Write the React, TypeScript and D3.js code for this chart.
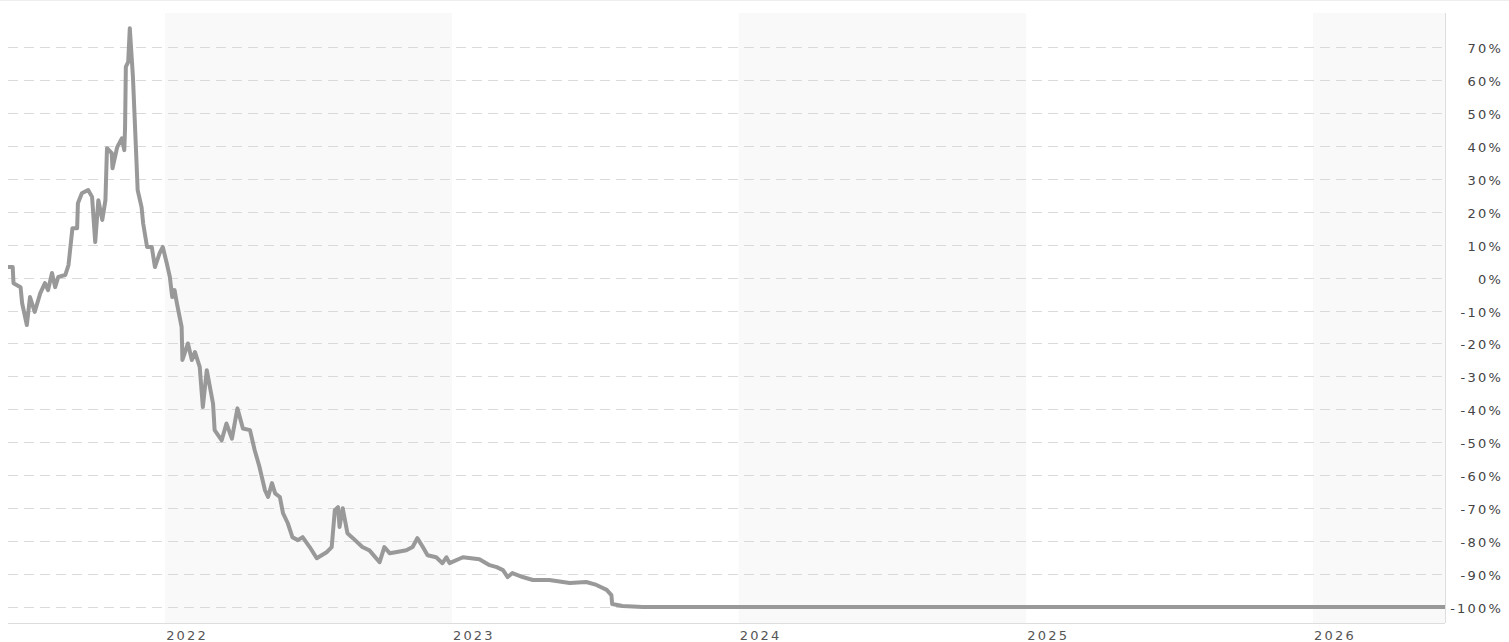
import React from "react";
import * as d3 from "d3";

const dates: string[] = [
  "2021-06-15","2021-06-21","2021-06-22","2021-07-01","2021-07-03","2021-07-09","2021-07-13","2021-07-19","2021-07-26","2021-08-01",
  "2021-08-05","2021-08-10","2021-08-14","2021-08-18","2021-08-27","2021-08-31","2021-09-05","2021-09-11","2021-09-12","2021-09-17",
  "2021-09-25","2021-09-30","2021-10-04","2021-10-08","2021-10-13","2021-10-17","2021-10-19","2021-10-25","2021-10-26","2021-11-01",
  "2021-11-07","2021-11-10","2021-11-11","2021-11-12","2021-11-15","2021-11-17","2021-11-21","2021-11-26","2021-11-27","2021-12-02",
  "2021-12-04","2021-12-09","2021-12-15","2021-12-19","2021-12-22","2021-12-25","2021-12-29","2022-01-03","2022-01-07","2022-01-10",
  "2022-01-13","2022-01-16","2022-01-22","2022-01-23","2022-01-30","2022-02-04","2022-02-08","2022-02-14","2022-02-18","2022-02-23",
  "2022-03-03","2022-03-05","2022-03-14","2022-03-20","2022-03-27","2022-04-03","2022-04-10","2022-04-19","2022-04-25","2022-05-01",
  "2022-05-08","2022-05-12","2022-05-17","2022-05-21","2022-05-27","2022-05-31","2022-06-06","2022-06-12","2022-06-19","2022-06-25",
  "2022-07-04","2022-07-13","2022-07-26","2022-08-01","2022-08-05","2022-08-09","2022-08-11","2022-08-15","2022-08-21","2022-08-28",
  "2022-09-09","2022-09-18","2022-10-01","2022-10-07","2022-10-14","2022-10-23","2022-11-04","2022-11-12","2022-11-18","2022-11-25",
  "2022-12-01","2022-12-12","2022-12-20","2022-12-25","2022-12-29","2023-01-15","2023-02-05","2023-02-18","2023-02-27","2023-03-07",
  "2023-03-13","2023-03-19","2023-04-01","2023-04-14","2023-05-05","2023-05-31","2023-06-21","2023-07-04","2023-07-17","2023-07-23",
  "2023-07-24","2023-08-06","2023-09-01","2024-06-01","2025-06-01","2026-06-18"
];

const values: number[] = [
  3.2,3.2,-1.7,-2.9,-7.8,-14.4,-5.9,-10.4,-4.8,-1.7,
  -3.8,1.4,-2.9,0.2,0.8,3.8,15,15,22.6,25.6,
  26.6,24.5,10.8,23.5,17.5,23.5,39.3,37.8,33.2,39.6,
  42.3,38.7,45.4,64,65.5,75.7,61,32.6,26.6,21.4,
  16.5,9.3,9.3,3.2,5.3,7.4,9.3,4.4,0.2,-5.9,
  -3.8,-7.8,-15,-25,-20,-25,-22.6,-27.1,-39.3,-28.1,
  -38.3,-46.3,-49.4,-44.3,-48.9,-39.7,-45.8,-46.3,-52.4,-57.4,
  -64.5,-66.6,-62.4,-65.5,-66.6,-71.5,-74.5,-78.8,-79.7,-78.8,
  -81.8,-85.2,-83.3,-81.8,-70.6,-69.7,-75.7,-70,-77.6,-79.1,
  -81.8,-82.8,-86.4,-81.8,-83.7,-83.3,-82.8,-81.8,-79.1,-81.8,
  -84.3,-84.9,-86.7,-84.9,-86.7,-84.9,-85.5,-87.3,-87.9,-88.8,
  -90.9,-89.7,-90.9,-91.8,-91.8,-92.7,-92.4,-93.3,-94.8,-96.4,
  -99.1,-99.7,-100,-100,-100,-100
];

const yTicks: number[] = [70,60,50,40,30,20,10,0,-10,-20,-30,-40,-50,-60,-70,-80,-90,-100];
const yearTicks: string[] = ["2022","2023","2024","2025","2026"];
const shadedYears: string[] = ["2022","2024","2026"];

const W = 1509, H = 642;
const L = 8, R = 1445, T = 13, B = 623;

export default function App() {
  const parse = d3.timeParse("%Y-%m-%d");
  const data = dates.map((d, i) => ({ date: parse(d) as Date, v: values[i] }));
  const x = d3.scaleTime()
    .domain([parse("2021-06-15") as Date, parse("2026-06-18") as Date])
    .range([L, R]);
  const y = d3.scaleLinear().domain([-100, 70]).range([607, 47]);
  const line = d3.line<{ date: Date; v: number }>()
    .x(d => x(d.date))
    .y(d => y(d.v))
    .curve(d3.curveLinear);

  const font = "'DejaVu Sans', Verdana, sans-serif";

  return (
    <svg width={W} height={H} style={{ position: "absolute", left: 0, top: 0, display: "block", background: "#fff" }}>
      <line x1={0} x2={W} y1={0.5} y2={0.5} stroke="#eeeeee" />
      {shadedYears.map(yr => {
        const s = x(parse(`${yr}-01-01`) as Date);
        const e = Math.min(R, x(parse(`${+yr + 1}-01-01`) as Date));
        return <rect key={yr} x={s} y={T} width={e - s} height={B - T} fill="#f9f9f9" />;
      })}
      {yTicks.map(t => (
        <line key={t} x1={L} x2={R} y1={Math.round(y(t)) + 0.5} y2={Math.round(y(t)) + 0.5}
          stroke="#dadada" strokeWidth={1.2} strokeDasharray="10,6" />
      ))}
      <line x1={R + 0.5} x2={R + 0.5} y1={T} y2={B} stroke="#dddddd" />
      <line x1={L} x2={R} y1={B + 0.5} y2={B + 0.5} stroke="#dddddd" />
      <path d={line(data) || ""} fill="none" stroke="#999999" strokeWidth={4} strokeLinejoin="round" />
      {yTicks.map(t => (
        <text key={t} x={1503} y={y(t) + 6} textAnchor="end" fontFamily={font} fontSize={13}
          letterSpacing={2.2} fill="#444">{`${t}%`}</text>
      ))}
      {yearTicks.map(yr => (
        <text key={yr} x={x(parse(`${yr}-01-01`) as Date) + 1} y={640} fontFamily={font} fontSize={13}
          letterSpacing={2.2} fill="#555">{yr}</text>
      ))}
    </svg>
  );
}
